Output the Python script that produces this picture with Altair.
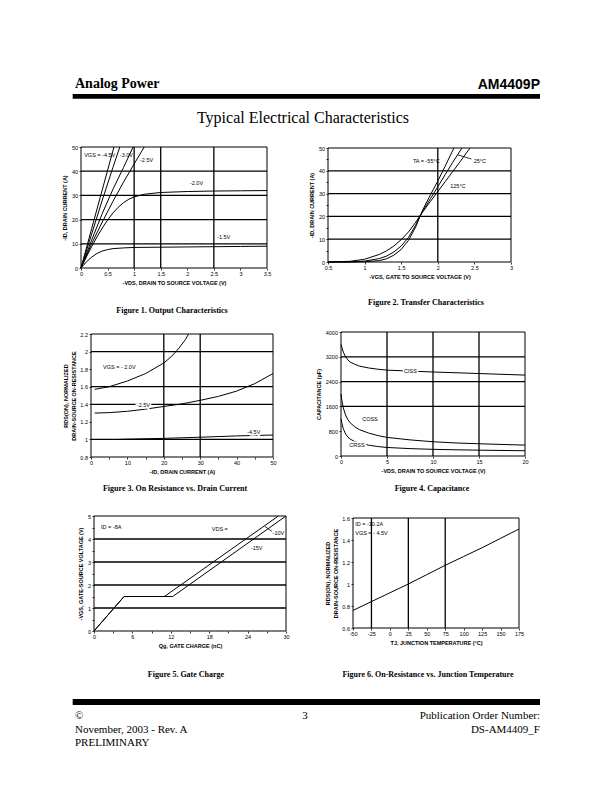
import altair as alt
import pandas as pd

PAGE_W, PAGE_H = 596, 776

# ---------------- Figure 1: output characteristics ----------------
f1_names = ["-4.5V", "-3.5V", "-3.0V", "-2.5V", "-2.0V", "-1.5V"]
f1_x = [
    [0, 0.2, 0.4, 0.62],
    [0, 0.2, 0.4, 0.6, 0.73],
    [0, 0.2, 0.4, 0.6, 0.8, 0.98],
    [0, 0.2, 0.4, 0.6, 0.8, 1.0, 1.19],
    [0, 0.1, 0.2, 0.3, 0.4, 0.5, 0.6, 0.7, 0.8, 0.9, 1.0, 1.2, 1.5, 2.0, 2.5, 3.0, 3.5],
    [0, 0.1, 0.2, 0.3, 0.4, 0.5, 0.6, 0.8, 1.0, 1.5, 2.0, 2.5, 3.0, 3.5],
]
f1_y = [
    [0, 16.2, 32.3, 50],
    [0, 14, 28, 41.5, 50],
    [0, 11.5, 22.5, 32.5, 41.5, 50],
    [0, 10, 19, 27.5, 35.5, 43, 50],
    [0, 4.5, 8.8, 12.8, 16.5, 19.8, 22.7, 25.1, 27, 28.4, 29.4, 30.5, 31.2, 31.6, 31.8, 31.9, 32],
    [0, 2.5, 4.5, 6.0, 7.0, 7.6, 8.0, 8.3, 8.5, 8.6, 8.7, 8.8, 8.9, 9.0],
]
f1_lab_t = ["VGS = -4.5V", "-3.0V", "-2.5V", "-2.0V", "-1.5V"]
f1_lab_x = [0.06, 0.73, 1.11, 2.05, 2.56]
f1_lab_y = [46.7, 46.7, 44.6, 35.1, 12.8]
f1_grid_x = [1, 1.5, 2.5]
f1_grid_y = [10, 20, 30, 40]

# ---------------- Figure 2: transfer characteristics ----------------
f2_names = ["-55C", "25C", "125C"]
f2_x = [
    [0.5, 0.8, 1.0, 1.2, 1.3, 1.4, 1.5, 1.6, 1.7, 1.75, 1.8, 1.9, 2.0, 2.1, 2.22],
    [0.5, 0.8, 1.0, 1.2, 1.3, 1.4, 1.5, 1.6, 1.7, 1.75, 1.8, 1.9, 2.0, 2.1, 2.2, 2.33],
    [0.5, 0.8, 1.0, 1.2, 1.3, 1.4, 1.5, 1.6, 1.7, 1.75, 1.8, 1.9, 2.0, 2.1, 2.2, 2.3, 2.44],
]
f2_y = [
    [0, 0, 0.1, 0.6, 1.4, 3.0, 5.5, 9.5, 15.5, 19.5, 23.2, 29.5, 35.5, 42, 50],
    [0, 0.05, 0.4, 1.5, 2.6, 4.4, 7.0, 10.8, 16.3, 19.7, 22.6, 27.8, 33, 38.3, 43.5, 50],
    [0, 0.3, 1.2, 3.3, 4.9, 7.0, 9.8, 13.2, 17.5, 20, 22.2, 26.6, 30.9, 35.2, 39.5, 43.8, 50],
]
f2_lab_t = ["TA = -55°C", "25°C", "125°C"]
f2_lab_x = [1.66, 2.49, 2.17]
f2_lab_y = [44.3, 44.3, 33.3]
f2_lead = [(2.27, 47.0, 2.46, 45.2)]
f2_grid_x = [2]
f2_grid_y = [10, 20, 30, 40]

# ---------------- Figure 3: on resistance vs drain current ----------------
f3_names = ["-2.0V", "-2.5V", "-4.5V"]
f3_x = [
    [1, 5, 10, 15, 20, 22, 24, 26, 26.8],
    [1, 5, 10, 15, 20, 25, 30, 35, 40, 45, 50],
    [7.5, 10, 20, 30, 40, 50],
]
f3_y = [
    [1.57, 1.6, 1.665, 1.75, 1.87, 1.94, 2.03, 2.14, 2.2],
    [1.30, 1.305, 1.32, 1.345, 1.375, 1.405, 1.445, 1.49, 1.55, 1.635, 1.75],
    [1.0, 1.003, 1.012, 1.025, 1.04, 1.05],
]
f3_lab_t = ["VGS = - 2.0V"]
f3_lab_x = [3.3]
f3_lab_y = [1.82]
f3_halo_t = ["-2.5V", "-4.5V"]
f3_halo_x = [12.6, 42.9]
f3_halo_y = [1.39, 1.08]
f3_grid_x = [20, 30]
f3_grid_y = [1, 1.4, 1.6, 2]

# ---------------- Figure 4: capacitance ----------------
f4_names = ["Ciss", "Coss", "Crss"]
f4_vds = [0, 0.1, 0.25, 0.5, 0.75, 1, 1.5, 2, 3, 4, 5, 7.5, 10, 12.5, 15, 17.5, 20]
f4_ciss = [3600, 3500, 3350, 3200, 3100, 3030, 2960, 2900, 2840, 2800, 2770, 2740, 2710, 2685, 2660, 2635, 2610]
f4_coss = [2000, 1780, 1550, 1320, 1170, 1070, 940, 850, 740, 660, 600, 520, 460, 420, 395, 372, 352]
f4_crss = [1200, 1050, 880, 710, 610, 545, 465, 410, 350, 305, 275, 238, 215, 200, 188, 178, 170]
f4_lab_t = ["COSS"]
f4_lab_x = [2.3]
f4_lab_y = [1194]
f4_halo_t = ["CISS", "CRSS"]
f4_halo_x = [6.85, 0.9]
f4_halo_y = [2742, 339]
f4_grid_x = [5, 10, 15]
f4_grid_y = [1600, 2400, 3200]

# ---------------- Figure 5: gate charge ----------------
f5_names = ["-10V", "-15V"]
f5_x = [[0, 4.7, 11, 28.8], [0, 4.7, 12.3, 30]]
f5_y = [[0, 1.5, 1.5, 5], [0, 1.5, 1.5, 5]]
f5_lab_t = ["ID = -8A", "VDS =", "-10V", "-15V"]
f5_lab_x = [1.1, 18.4, 27.9, 24.5]
f5_lab_y = [4.52, 4.43, 4.26, 3.61]
f5_lead = [(26.7, 4.55, 27.8, 4.33)]
f5_grid_y = [1, 2, 3, 4]

# ---------------- Figure 6: on-resistance vs junction temperature ----------------
f6_names = ["Rds"]
f6_x = [[-50, -25, 0, 25, 50, 75, 100, 125, 150, 175]]
f6_y = [[0.76, 0.84, 0.92, 1.0, 1.085, 1.17, 1.25, 1.33, 1.415, 1.5]]
f6_lab_t = ["ID = -10.2A", "VGS = - 4.5V"]
f6_lab_x = [-47, -47]
f6_lab_y = [1.545, 1.464]
f6_grid_x = [-25, 25, 75]

SANS = "Liberation Sans"
SERIF = "Liberation Serif"
one = pd.DataFrame({"a": [0]})


def make_axis(orient, values, title, offset, label_expr):
    return alt.Axis(orient=orient, values=values, title=title, offset=offset,
                    labelExpr=label_expr)


def panel(xdom, ydom, xr, yr, xvals, yvals, xtitle, ytitle, names, xs_list, ys_list,
          labels, halos=None, grid_x=None, grid_y=None, leads=None,
          xlabel_expr="toString(datum.value)", ylabel_expr="toString(datum.value)"):
    xs = alt.Scale(domain=xdom, range=xr, nice=False, zero=False)
    ys = alt.Scale(domain=ydom, range=yr, nice=False, zero=False)
    xaxis = make_axis("bottom", xvals, xtitle, yr[0] - PAGE_H, xlabel_expr)
    yaxis = make_axis("left", yvals, ytitle, -xr[0], ylabel_expr)

    def X(f):
        return alt.X(f, scale=xs, axis=xaxis)

    def Y(f):
        return alt.Y(f, scale=ys, axis=yaxis)

    box = pd.DataFrame({"x0": [xdom[0]], "x1": [xdom[1]], "y0": [ydom[0]], "y1": [ydom[1]]})
    layers = []
    if grid_x:
        d = pd.DataFrame({"v": grid_x, "lo": ydom[0], "hi": ydom[1]})
        layers.append(alt.Chart(d).mark_rule(color="black", strokeWidth=1.3).encode(
            x=X("v:Q"), y=Y("lo:Q"), y2="hi:Q"))
    if grid_y:
        d = pd.DataFrame({"v": grid_y, "lo": xdom[0], "hi": xdom[1]})
        layers.append(alt.Chart(d).mark_rule(color="black", strokeWidth=1.3).encode(
            y=Y("v:Q"), x=X("lo:Q"), x2="hi:Q"))
    rows = []
    for n, xx, yy in zip(names, xs_list, ys_list):
        for a, b in zip(xx, yy):
            rows.append({"s": n, "x": a, "y": b})
    cd = pd.DataFrame(rows)
    layers.append(alt.Chart(cd).mark_line(color="black", strokeWidth=1).encode(
        x=X("x:Q"), y=Y("y:Q"), detail="s:N"))
    if leads:
        ld = pd.DataFrame(leads, columns=["x", "y", "x2", "y2"])
        layers.append(alt.Chart(ld).mark_rule(color="black", strokeWidth=0.8).encode(
            x=X("x:Q"), y=Y("y:Q"), x2="x2:Q", y2="y2:Q"))
    if halos:
        hd = pd.DataFrame({"t": halos[0], "x": halos[1], "y": halos[2]})
        layers.append(alt.Chart(hd).mark_text(align="left", baseline="middle", font=SANS,
                                              fontSize=5.5, stroke="white", strokeWidth=3,
                                              color="white").encode(
            x=X("x:Q"), y=Y("y:Q"), text="t:N"))
        layers.append(alt.Chart(hd).mark_text(align="left", baseline="middle", font=SANS,
                                              fontSize=5.5, color="black").encode(
            x=X("x:Q"), y=Y("y:Q"), text="t:N"))
    td = pd.DataFrame({"t": labels[0], "x": labels[1], "y": labels[2]})
    layers.append(alt.Chart(td).mark_text(align="left", baseline="middle", font=SANS,
                                          fontSize=5.5, color="black").encode(
        x=X("x:Q"), y=Y("y:Q"), text="t:N"))
    frame = alt.Chart(box).mark_rect(fillOpacity=0, stroke="black", strokeWidth=1).encode(
        x=X("x0:Q"), x2="x1:Q", y=Y("y0:Q"), y2="y1:Q")
    layers.append(frame)
    return alt.layer(*layers)


p1 = panel([0, 3.5], [0, 50], [73, 259], [260, 139],
           [0, 0.5, 1, 1.5, 2, 2.5, 3, 3.5], [0, 10, 20, 30, 40, 50],
           "-VDS, DRAIN TO SOURCE VOLTAGE (V)", "-ID, DRAIN CURRENT (A)",
           f1_names, f1_x, f1_y, (f1_lab_t, f1_lab_x, f1_lab_y),
           grid_x=f1_grid_x, grid_y=f1_grid_y)

p2 = panel([0.5, 3], [0, 50], [320, 503], [254, 140],
           [0.5, 1, 1.5, 2, 2.5, 3], [0, 5, 10, 15, 20, 25, 30, 35, 40, 45, 50],
           "-VGS, GATE TO SOURCE VOLTAGE (V)", "-ID, DRAIN CURRENT (A)",
           f2_names, f2_x, f2_y, (f2_lab_t, f2_lab_x, f2_lab_y),
           grid_x=f2_grid_x, grid_y=f2_grid_y, leads=f2_lead,
           ylabel_expr="datum.value % 10 == 0 ? toString(datum.value) : ''")

p3 = panel([0, 50], [0.8, 2.2], [83, 265], [449, 326],
           [0, 5, 10, 15, 20, 25, 30, 35, 40, 45, 50], [0.8, 1, 1.2, 1.4, 1.6, 1.8, 2, 2.2],
           "-ID, DRAIN CURRENT (A)", ["RDS(ON), NORMALIZED", "DRAIN-SOURCE ON-RESISTANCE"],
           f3_names, f3_x, f3_y, (f3_lab_t, f3_lab_x, f3_lab_y),
           halos=(f3_halo_t, f3_halo_x, f3_halo_y),
           grid_x=f3_grid_x, grid_y=f3_grid_y,
           xlabel_expr="datum.value % 10 == 0 ? toString(datum.value) : ''")

p4 = panel([0, 20], [0, 4000], [333, 517], [448, 324],
           [0, 5, 10, 15, 20], [0, 800, 1600, 2400, 3200, 4000],
           "-VDS, DRAIN TO SOURCE VOLTAGE (V)", "CAPACITANCE (pF)",
           f4_names, [f4_vds, f4_vds, f4_vds], [f4_ciss, f4_coss, f4_crss],
           (f4_lab_t, f4_lab_x, f4_lab_y), halos=(f4_halo_t, f4_halo_x, f4_halo_y),
           grid_x=f4_grid_x, grid_y=f4_grid_y)

p5 = panel([0, 30], [0, 5], [86, 278], [623, 508],
           [0, 3, 6, 9, 12, 15, 18, 21, 24, 27, 30],
           [0, 0.5, 1, 1.5, 2, 2.5, 3, 3.5, 4, 4.5, 5],
           "Qg, GATE CHARGE (nC)", "-VGS, GATE-SOURCE VOLTAGE (V)",
           f5_names, f5_x, f5_y, (f5_lab_t, f5_lab_x, f5_lab_y),
           grid_y=f5_grid_y, leads=f5_lead,
           xlabel_expr="datum.value % 6 == 0 ? toString(datum.value) : ''",
           ylabel_expr="datum.value % 1 == 0 ? toString(datum.value) : ''")

p6 = panel([-50, 175], [0.6, 1.6], [345, 511], [620, 510],
           [-50, -25, 0, 25, 50, 75, 100, 125, 150, 175], [0.6, 0.8, 1, 1.2, 1.4, 1.6],
           "TJ, JUNCTION TEMPERATURE (°C)", ["RDS(ON), NORMALIZED", "DRAIN-SOURCE ON-RESISTANCE"],
           f6_names, f6_x, f6_y, (f6_lab_t, f6_lab_x, f6_lab_y),
           grid_x=f6_grid_x)


def ptext(s, x, y, size, font, weight="normal", align="left"):
    return alt.Chart(one).mark_text(text=s, font=font, fontSize=size, fontWeight=weight,
                                    align=align, baseline="alphabetic", color="black").encode(
        x=alt.value(x), y=alt.value(y))


def pbar(x0, x1, y0, y1):
    return alt.Chart(one).mark_rect(color="black").encode(
        x=alt.value(x0), x2=alt.value(x1), y=alt.value(y0), y2=alt.value(y1))


page = [
    ptext("Analog Power", 67, 80, 14, SERIF, "bold"),
    ptext("AM4409P", 532, 81, 14, SANS, "bold", "right"),
    pbar(64.7, 532, 86, 90.7),
    ptext("Typical Electrical Characteristics", 295, 115, 16, SERIF, "normal", "center"),
    ptext("Figure 1. Output Characteristics", 164, 305, 8, SERIF, "bold", "center"),
    ptext("Figure 2. Transfer Characteristics", 418, 297, 8, SERIF, "bold", "center"),
    ptext("Figure 3. On Resistance vs. Drain Current", 167, 483, 8, SERIF, "bold", "center"),
    ptext("Figure 4. Capacitance", 424, 483, 8, SERIF, "bold", "center"),
    ptext("Figure 5. Gate Charge", 178, 669, 8, SERIF, "bold", "center"),
    ptext("Figure 6. On-Resistance vs. Junction Temperature", 420, 669, 8, SERIF, "bold", "center"),
    pbar(64.7, 532, 691, 697),
    ptext("©", 67, 711, 11, SERIF),
    ptext("November, 2003 - Rev. A", 67, 725, 11, SERIF),
    ptext("PRELIMINARY", 67, 738, 11, SERIF),
    ptext("3", 297, 711, 11, SERIF, "normal", "center"),
    ptext("Publication Order Number:", 532, 711, 11, SERIF, "normal", "right"),
    ptext("DS-AM4409_F", 532, 725, 11, SERIF, "normal", "right"),
]

chart = alt.layer(*page, p1, p2, p3, p4, p5, p6).resolve_scale(
    x="independent", y="independent"
).resolve_axis(
    x="independent", y="independent"
).properties(
    width=PAGE_W, height=PAGE_H, padding=0,
    autosize=alt.AutoSizeParams(type="none"),
).configure_view(
    strokeWidth=0
).configure_axis(
    labelFont=SANS, labelFontSize=5.5, labelColor="black",
    titleFont=SANS, titleFontSize=5.5, titleFontWeight="bold", titleColor="black",
    tickColor="black", tickSize=2, tickWidth=0.8, labelPadding=1.5, titlePadding=3.5,
    domain=False, grid=False, labelFlush=False, labelOverlap=False,
)

chart.save("out.html", embed_options={"renderer": "svg", "actions": False})
